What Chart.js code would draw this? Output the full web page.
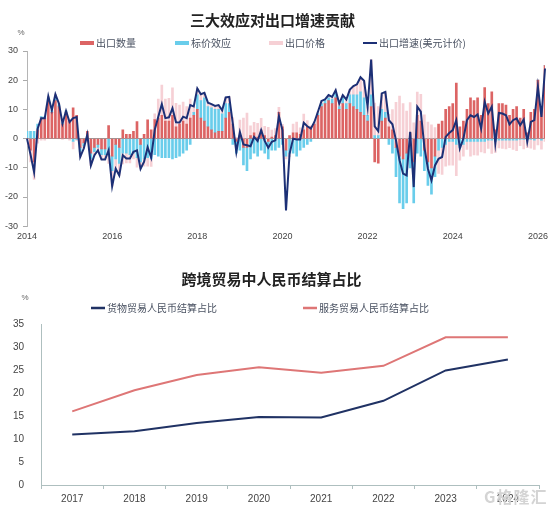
<!DOCTYPE html>
<html>
<head>
<meta charset="utf-8">
<script src="https://cdn.jsdelivr.net/npm/chart.js@4.4.0/dist/chart.umd.min.js"></script>
<style>
  body { margin: 0; background: #fff; }
  #wrap { position: relative; width: 556px; height: 510px; overflow: hidden; }
  canvas { position: absolute; left: 0; }
  #exportChart { top: 0; }
  #rmbChart { top: 252px; }
  #mark { position: absolute; left: 484px; top: 484px; font: bold 16px "Noto Sans CJK SC", sans-serif; color: #d4d4d4; letter-spacing: 1px; }
</style>
</head>
<body>
<div id="wrap">
  <canvas id="exportChart" width="556" height="252"></canvas>
  <canvas id="rmbChart" width="556" height="258"></canvas>
  <div id="mark">G格隆汇</div>
</div>
<script>
// ---- top chart data (monthly, from 2014-01) ----
const yearTicks = ["2014", "2016", "2018", "2020", "2022", "2024", "2026"];

const exportGrowth = [
  0, -5.5, -11.5, 3.4, 7, 7, 14.5, 9.7, 15.2, 12, 5.2, 9.5,
  5.7, 7, 7.4, -6.3, -3.4, 1.4, -9.2, -5.7, -4, -7.2, -7.2, -4,
  -16.3, -10.3, -12.6, -5.7, -6.8, -6.8, -4.5, -4, -10.4, -7.9, -3, -6.5,
  3, 7.5, 11.8, 7, 7.3, 10.4, 5.6, 5.5, 7.5, 7, 11.5, 11,
  17.2, 15.2, 15.7, 12.3, 11.8, 11.2, 11.5, 9.7, 14.1, 14.3, 5.2, -4.6,
  2.3, -2, -2.3, -2.6, 0.6, -0.8, 2.9, -0.8, -3.1, -1.1, -0.6, 7.7,
  2.9, -24.6, -5.2, 0, -0.3, -0.3, 5.4, 4.2, 3.4, 5.7, 9.2, 12.9,
  13.4, 14.9, 14.3, 16.6, 12, 14.9, 13.4, 16.8, 18, 18.6, 21, 19.8,
  10.9, 27.1, 4.2, 2.6, 15.5, 16, 6.3, 4.9, -0.6, -7.4, -12, -12.6,
  2.3, -16.6, 10.9, 9.2, -2.9, -10.3, -14.3, -9.2, -6.9, -6.3, 0.6, 1.9,
  2.9, 6.3, -3.4, 0, 6.3, 8, 7.4, 8.3, 3.4, 12.6, 8.6, 10.9,
  -1.7, 8.8, 8.6, 8, 4.9, 6.3, 6.9, 4.6, 6.5, -1.1, 5.7, 6.3,
  17.8, 7.4, 24
];

// 出口数量
const qtyEffect = [
  0, -4, -8, 3, 7, 7, 13, 9, 13, 11, 5, 9,
  6, 10.5, 8, -3, -1.5, 2.5, -5, -3, -2, -3.5, -3.5, 4.5,
  -6, -2, -3, 3, 1.5, 1.5, 2.5, 5.8, -2, 1.5, 6.4, 3,
  6.5, 7, 8, 6, 6, 8, 4, 5, 6, 5, 7, 8,
  10, 7, 6, 4, 3, 2, 2.5, 2.5, 7, 9, 5, -1,
  1, -3, -3, 1, 2, 0.5, 3, 1, -1, 0.5, 1, 9,
  4, -4, 1, 2, 2, 1.5, 3, 4, 4, 5, 8, 11,
  12, 13, 12, 14, 10, 12, 10, 12, 11, 10, 9, 8,
  6, 11, -8, -8.4, 6, 7, 4, 3, -3, -6, -7, -5,
  2, -8, 8, 6, -4, -8, -10, -6, 5, 6, 10, 11,
  12, 19, 4, 6, 10, 14, 13, 14, 8, 17.5, 12, 16,
  3, 12, 12, 11.5, 8, 10, 11, 7, 10, 2, 9, 10,
  20, 11, 25
];

// 标价效应
const fxEffect = [
  2.5, 2.5, 2.5, 2, 0.5, 0.5, 1, 0.5, 1.2, 0.5, 0.5, 0.5,
  0.2, -1, -0.3, -1.5, -1, -0.5, -2, -1.5, -1, -2, -2, -4,
  -5, -5, -5.5, -5, -5, -5.5, -5, -6.5, -6, -7, -6.5, -7,
  -5.5, -6, -6.5, -6.5, -6.5, -7, -6.5, -6, -5, -4, -2, 1,
  5, 6, 8, 7, 7.5, 8, 7.5, 6, 5, 3, -2, -4,
  -4, -6, -8, -7, -5, -6, -4, -5, -6, -4, -4, -3,
  -2, -2, -5, -5, -6, -4, -3, -2, -1, 0, 0.5, 1,
  1, 1, 1.5, 2, 1, 2, 2, 3, 4, 5, 7, 6,
  2, 4, 1, 1, 4, 2, -2, -5, -10, -16, -17, -17,
  -10, -14, -5, -6, -7, -8, -9, -7, -4, -3, -2, -1,
  -1, -2, -3, -2, -1, -1, -1, -1, -1, -1, -0.5, -0.5,
  -1, -0.5, -0.5, -0.5, -0.5, -0.5, -0.5, -0.3, -0.3, -0.3, -0.3, -0.5,
  0, -0.5, 0
];

// 出口价格
const priceEffect = [
  -2.5, -4, -6, -1.6, -0.5, -0.5, 0.5, 0.2, 1, 0.5, -0.3, 0,
  -0.5, -2.5, -0.3, -1.8, -0.9, -0.6, -2.2, -1.2, -1, -1.7, -1.7, -4.5,
  -5.3, -3.3, -4.1, -3.7, -3.3, -2.8, -2, -3.3, -2.4, -2.4, -2.9, -2.5,
  2, 6.5, 10.3, 7.5, 7.8, 9.4, 8.1, 6.5, 6.5, 6, 6.5, 2,
  2.2, 2.2, 1.7, 1.3, 1.3, 1.2, 1.5, 1.2, 2.1, 2.3, 2.2, 0.4,
  5.3, 7, 8.7, 3.4, 3.6, 4.7, 3.9, 3.2, 3.9, 2.4, 2.4, 1.7,
  0.9, -1, -1.2, 3, 3.7, 2.2, 5.4, 2.2, 0.4, 0.7, 0.7, 0.9,
  0.4, 0.9, 0.8, 0.6, 1, 0.9, 1.4, 1.8, 3, 3.6, 5, 5.8,
  2.9, 12.1, 11.2, 10, 5.5, 7, 4.3, 6.9, 12.4, 14.6, 12, 9.4,
  10.3, 5.4, 7.9, 9.2, 8.1, 5.7, 4.7, 3.8, -7.9, -9.3, -7.4, -8.1,
  -8.1, -10.7, -4.4, -4, -2.7, -5, -4.6, -4.7, -3.6, -3.9, -2.9, -4.6,
  -3.7, -2.7, -2.9, -3, -2.6, -3.2, -3.6, -2.1, -3.2, -2.8, -3, -3.2,
  -2.2, -3.1, -1
];

// month categories
const months = [];
for (let y = 2014; y <= 2026; y++) {
  for (let m = 1; m <= 12; m++) months.push(y + "-" + String(m).padStart(2, "0"));
}
months.length = exportGrowth.length;

// ---- bottom chart data ----
const years = ["2017", "2018", "2019", "2020", "2021", "2022", "2023", "2024"];
const goodsShare = [11, 11.7, 13.5, 14.8, 14.7, 18.3, 24.9, 27.3];
const serviceShare = [16, 20.6, 23.9, 25.6, 24.4, 25.9, 32.1, 32.1];

const RED = "rgb(220, 100, 100)";
const CYAN = "rgb(105, 205, 235)";
const PINK = "rgb(246, 208, 213)";
const NAVY = "rgb(28, 48, 118)";
const NAVY2 = "rgb(32, 50, 100)";
const ROSE = "rgb(222, 118, 118)";
const AXIS = "#aebfbf";

Chart.defaults.font.family = "'Liberation Sans', 'Noto Sans CJK SC', sans-serif";

// draws legend rows at fixed places
const manualLegend = {
  id: "manualLegend",
  afterDraw(chart, args, opts) {
    const ctx = chart.ctx;
    ctx.save();
    ctx.font = opts.fontSize + "px 'Noto Sans CJK SC', sans-serif";
    ctx.textBaseline = "middle";
    opts.items.forEach((it, i) => {
      const ds = chart.data.datasets[i];
      ctx.fillStyle = ds.borderColor;
      ctx.fillRect(it.x, opts.y - it.h / 2, 14, it.h);
      ctx.fillStyle = "#4a5262";
      ctx.fillText(ds.label, it.x + 16, opts.y);
    });
    ctx.restore();
  }
};

const percentMark = {
  id: "percentMark",
  afterDraw(chart, args, opts) {
    const ctx = chart.ctx;
    ctx.save();
    ctx.font = "8px 'Liberation Sans', sans-serif";
    ctx.fillStyle = "#666";
    ctx.textAlign = "center";
    ctx.textBaseline = "middle";
    ctx.fillText("%", opts.x, opts.y);
    ctx.restore();
  }
};

new Chart(document.getElementById("exportChart"), {
  type: "bar",
  data: {
    labels: months,
    datasets: [
      { label: "出口数量", data: qtyEffect, backgroundColor: RED, borderColor: RED, order: 1, stack: "fx", barThickness: 2 },
      { label: "标价效应", data: fxEffect, backgroundColor: CYAN, borderColor: CYAN, order: 2, stack: "fx", barThickness: 2 },
      { label: "出口价格", data: priceEffect, backgroundColor: PINK, borderColor: PINK, order: 3, stack: "fx", barThickness: 2 },
      {
        type: "line", label: "出口增速(美元计价)", data: exportGrowth,
        borderColor: NAVY, backgroundColor: NAVY, borderWidth: 2,
        pointRadius: 0, tension: 0, order: 0, stack: "line"
      }
    ]
  },
  options: {
    responsive: false,
    animation: false,
    devicePixelRatio: 1,
    layout: { padding: { top: 0, left: 0, right: 11, bottom: 5 } },
    plugins: {
      legend: { display: false },
      tooltip: { enabled: false },
      title: {
        display: true,
        text: "三大效应对出口增速贡献",
        color: "#222",
        font: { size: 15, weight: "bold", family: "'Noto Sans CJK SC', sans-serif" },
        padding: { top: 11, bottom: 22 }
      },
      manualLegend: {
        y: 43, fontSize: 10,
        items: [{ x: 80, h: 4 }, { x: 175, h: 4 }, { x: 269, h: 4 }, { x: 363, h: 2 }]
      },
      percentMark: { x: 21, y: 33 }
    },
    scales: {
      x: {
        stacked: true,
        offset: false,
        grid: { display: false, drawTicks: false },
        border: { display: false },
        ticks: {
          autoSkip: false, maxRotation: 0, minRotation: 0, padding: 5,
          color: "#444", font: { size: 9 },
          callback: function (v, i) {
            const lab = months[i];
            const yr = lab.slice(0, 4);
            return lab.endsWith("-01") && yearTicks.includes(yr) ? yr : "";
          }
        }
      },
      y: {
        stacked: true,
        min: -30, max: 30,
        ticks: { stepSize: 10, padding: 5, color: "#444", font: { size: 9 } },
        grid: {
          color: c => (c.tick && c.tick.value === 0 ? "#9a9a9a" : "rgba(0,0,0,0)"),
          tickColor: "#aaa", tickLength: 4
        },
        border: { color: "#b5b5b5" }
      }
    }
  },
  plugins: [manualLegend, percentMark]
});

new Chart(document.getElementById("rmbChart"), {
  type: "line",
  data: {
    labels: years,
    datasets: [
      { label: "货物贸易人民币结算占比", data: goodsShare, borderColor: NAVY2, backgroundColor: NAVY2, borderWidth: 2, pointRadius: 0, tension: 0 },
      { label: "服务贸易人民币结算占比", data: serviceShare, borderColor: ROSE, backgroundColor: ROSE, borderWidth: 2, pointRadius: 0, tension: 0 }
    ]
  },
  options: {
    responsive: false,
    animation: false,
    devicePixelRatio: 1,
    layout: { padding: { top: 0, left: 4, right: 17, bottom: 1 } },
    plugins: {
      legend: { display: false },
      tooltip: { enabled: false },
      title: {
        display: true,
        text: "跨境贸易中人民币结算占比",
        color: "#222",
        font: { size: 15, weight: "bold", family: "'Noto Sans CJK SC', sans-serif" },
        padding: { top: 18, bottom: 36 }
      },
      manualLegend: {
        y: 56, fontSize: 10,
        items: [{ x: 91, h: 2.5 }, { x: 303, h: 2.5 }]
      },
      percentMark: { x: 25, y: 46 }
    },
    scales: {
      x: {
        offset: true,
        grid: { display: true, drawOnChartArea: false, offset: true, tickLength: 4, color: AXIS },
        border: { color: AXIS },
        ticks: { padding: 4, color: "#444", font: { size: 10 } }
      },
      y: {
        min: 0, max: 35,
        ticks: { stepSize: 5, padding: 9, color: "#444", font: { size: 10 } },
        grid: { display: false },
        border: { color: AXIS }
      }
    }
  },
  plugins: [manualLegend, percentMark]
});
</script>
</body>
</html>
